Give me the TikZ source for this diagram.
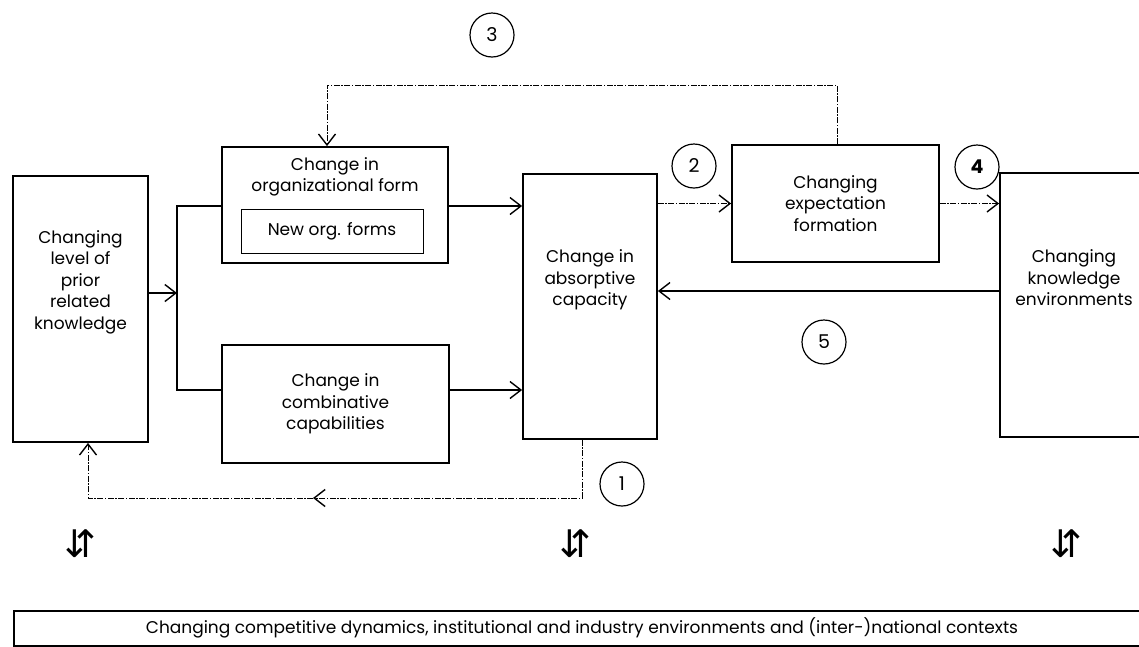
\documentclass[tikz,border=0pt]{standalone}
\usepackage{fontspec}
\setmainfont{Poppins}
\newfontfamily\arrowfont{DejaVu Sans}
\usetikzlibrary{arrows.meta}

\begin{document}
\begin{tikzpicture}[
        x=1pt, y=-1pt,
        >={Straight Barb[length=11pt,width=17pt,line width=1.4pt]},
        mybox/.style={rectangle,draw,line width=1.8pt,inner sep=0pt},
        mytext/.style={align=center,font=\fontsize{17}{21.5}\selectfont},
        mynum/.style={circle,draw,line width=1.2pt,minimum size=44pt,inner sep=0pt,font=\fontsize{19}{19}\selectfont},
        solidline/.style={line width=1.8pt},
        fb/.style={line width=0.9pt,dash pattern=on 6pt off 1.5pt on 1.5pt off 1.5pt},
        updown/.style={font=\arrowfont\fontsize{38}{38}\selectfont},
    ]
    \useasboundingbox (0,0) rectangle (1139,646);
    \clip (0,0) rectangle (1139,646);

    % boxes
    \node[mybox,minimum width=135pt,minimum height=266pt] (prior) at (80.5,309) {};
    \node[mytext] (priortxt) at (80.5,282) {Changing\\level of\\prior\\related\\knowledge};
    \node[mybox,minimum width=226pt,minimum height=116pt] (org) at (335,205) {};
    \node[mytext] (orgtxt) at (335,177) {Change in\\organizational form};
    \node[mybox,mytext,line width=0.9pt,minimum width=182pt,minimum height=44pt] (neworg) at (332,231) {New org. forms};
    \node[mybox,mytext,minimum width=227pt,minimum height=118pt] (comb) at (335.5,404) {Change in\\combinative\\capabilities};
    \node[mybox,minimum width=134pt,minimum height=265pt] (abs) at (590,306.5) {};
    \node[mytext] (abstxt) at (590,280) {Change in\\absorptive\\capacity};
    \node[mybox,mytext,minimum width=207pt,minimum height=117pt] (expect) at (835.5,203.5) {Changing\\expectation\\formation};
    \node[mybox,minimum width=148pt,minimum height=264pt] (env) at (1074,305) {};
    \node[mytext] (envtxt) at (1074,278) {Changing\\knowledge\\environments};
    \node[mybox,minimum width=1150pt,minimum height=35pt,anchor=north west] (context) at (13,610) {};
    \node[font=\fontsize{17}{17}\selectfont] (contexttxt) at (582,628) {Changing competitive dynamics, institutional and industry environments and (inter-)national contexts};

    % numbers
    \node[mynum] (n1) at (622,484) {\rmfamily 1};
    \node[mynum] (n2) at (694,166) {2};
    \node[mynum] (n3) at (492,35) {3};
    \node[mynum] (n4) at (977,167) {\bfseries 4};
    \node[mynum] (n5) at (824,342) {\rmfamily 5};

    \node[updown] (ud1) at (80,544) {⇵};
    \node[updown] (ud2) at (575,544) {⇵};
    \node[updown] (ud3) at (1066,544) {⇵};

    % links
    \coordinate (split) at (177,293);
    \coordinate (jtop) at (177,206);
    \coordinate (jbot) at (177,390);
    \draw[solidline,->] (prior.east |- split) -- (split);
    \draw[solidline] (org.west |- jtop) -- (jtop) -- (jbot) -- (comb.west |- jbot);
    \draw[solidline,->] (org.east |- jtop) -- (abs.west |- jtop);
    \draw[solidline,->] (comb.east |- jbot) -- (abs.west |- jbot);
    \draw[fb,->] (abs.east |- expect.west) -- (expect.west);
    \draw[fb,->] (expect.east) -- (env.west |- expect.east);
    \draw[solidline,->] (env.west |- 0,291) -- (abs.east |- 0,291);
    \draw[fb,->] (expect.north -| 837,0) |- (327,85) -- (org.north -| 327,0);
    \coordinate (back1) at (313,498);
    \draw[fb,->] (abs.south -| 582,0) |- (back1);
    \draw[fb,->] (back1) -| (prior.south -| 88,0);
\end{tikzpicture}
\end{document}
